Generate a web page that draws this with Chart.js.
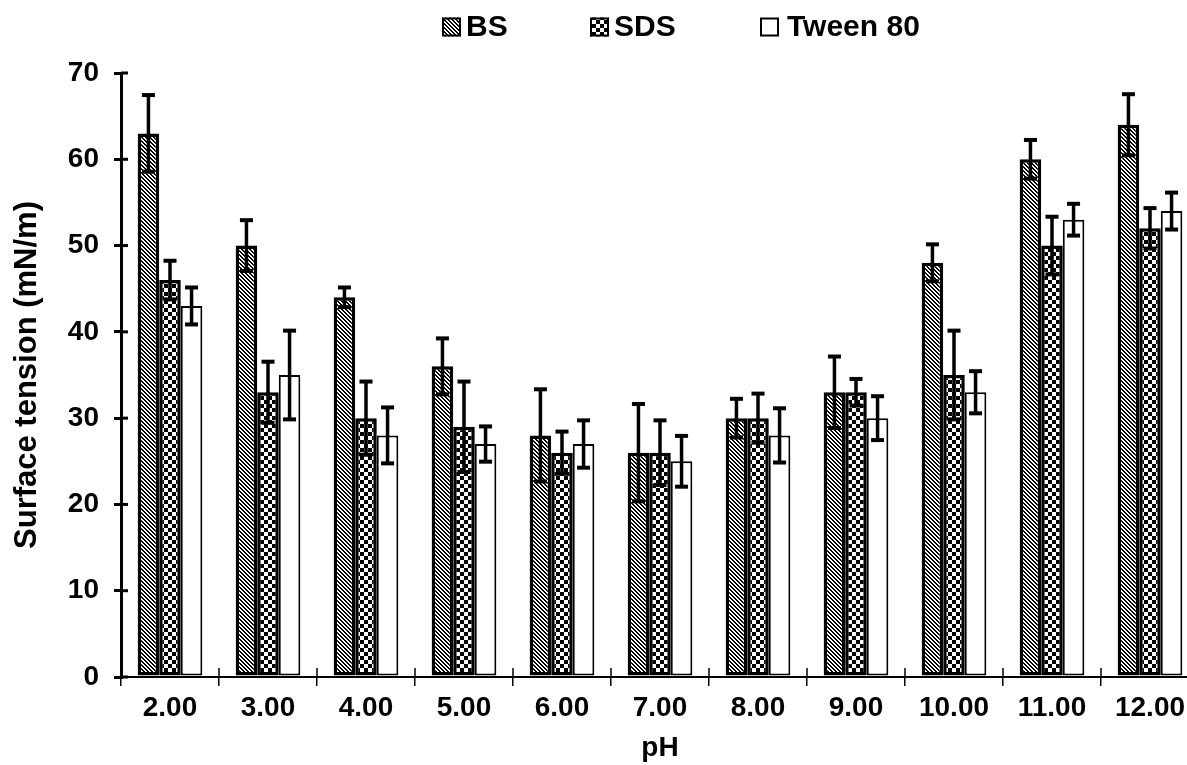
<!DOCTYPE html>
<html>
<head>
<meta charset="utf-8">
<script src="https://cdn.jsdelivr.net/npm/chart.js@4.4.1/dist/chart.umd.min.js"></script>
<style>
  html, body { margin: 0; padding: 0; background: #fff; overflow: hidden; }
  #wrap { width: 1200px; height: 765px; }
</style>
</head>
<body>
<div id="wrap"><canvas id="chart"></canvas></div>
<script>
// pH values on the category axis
const phLabels = ['2.00', '3.00', '4.00', '5.00', '6.00', '7.00', '8.00', '9.00', '10.00', '11.00', '12.00'];

// surface tension means (mN/m) and their standard deviations
const bsValues    = [63, 50, 44, 36, 28, 26, 30, 33, 48, 60, 64];
const bsErrors    = [4.5, 3.0, 1.2, 3.3, 5.4, 5.7, 2.3, 4.2, 2.2, 2.3, 3.6];
const sdsValues   = [46, 33, 30, 29, 26, 26, 30, 33, 35, 50, 52];
const sdsErrors   = [2.3, 3.6, 4.3, 5.3, 2.5, 3.8, 2.9, 1.6, 5.2, 3.4, 2.4];
const tweenValues = [43, 35, 28, 27, 27, 25, 28, 30, 33, 53, 54];
const tweenErrors = [2.2, 5.2, 3.3, 2.1, 2.8, 3.0, 3.2, 2.6, 2.5, 1.9, 2.2];

// y axis range and tick step
const yMin = 0, yMax = 70, yStep = 10;

const FONT = 'Arial, "Liberation Sans", Helvetica, sans-serif';
const canvas = document.getElementById('chart');
const ctx = canvas.getContext('2d');

// pixel-exact fill patterns
function makePattern(size, isBlack) {
  const c = document.createElement('canvas');
  c.width = c.height = size;
  const g = c.getContext('2d');
  const img = g.createImageData(size, size);
  for (let y = 0; y < size; y++) {
    for (let x = 0; x < size; x++) {
      const v = isBlack(x, y) ? 0 : 255;
      const k = (y * size + x) * 4;
      img.data[k] = img.data[k + 1] = img.data[k + 2] = v;
      img.data[k + 3] = 255;
    }
  }
  g.putImageData(img, 0, 0);
  return ctx.createPattern(c, 'repeat');
}
const hatchFill = makePattern(4, (x, y) => (((x - y) % 4) + 4) % 4 < 2);
const checkFill = makePattern(8, (x, y) => (Math.floor(x / 4) + Math.floor(y / 4)) % 2 === 0);

// symmetric error bars with caps
const errorBars = {
  id: 'errorBars',
  afterDatasetsDraw(chart) {
    const c = chart.ctx, ys = chart.scales.y;
    c.save();
    c.strokeStyle = '#000';
    c.fillStyle = '#000';
    chart.data.datasets.forEach((ds, d) => {
      const meta = chart.getDatasetMeta(d);
      meta.data.forEach((bar, i) => {
        const v = ds.data[i], e = ds.errors[i];
        const yT = ys.getPixelForValue(v + e);
        const yB = ys.getPixelForValue(v - e);
        c.lineWidth = 3.5;
        c.beginPath();
        c.moveTo(bar.x, yT);
        c.lineTo(bar.x, yB);
        c.stroke();
        c.fillRect(bar.x - 6.5, yT - 1.5, 13, 4);
        c.fillRect(bar.x - 6.5, yB - 2.5, 13, 4);
      });
    });
    c.restore();
  }
};

// tick marks that cross into the plot area
const innerTicks = {
  id: 'innerTicks',
  afterDraw(chart) {
    const c = chart.ctx, a = chart.chartArea;
    const ys = chart.scales.y;
    c.save();
    c.strokeStyle = '#000';
    c.lineWidth = 3;
    ys.ticks.forEach(t => {
      const y = ys.getPixelForValue(t.value);
      c.beginPath();
      c.moveTo(a.left, y);
      c.lineTo(a.left + 7, y);
      c.stroke();
    });
    c.lineWidth = 1.5;
    const n = phLabels.length;
    for (let i = 0; i <= n; i++) {
      const x = a.left + i * (a.right - a.left) / n;
      c.beginPath();
      c.moveTo(x, a.bottom);
      c.lineTo(x, a.bottom - 9);
      c.stroke();
    }
    c.restore();
  }
};

// legend row above the plot
const topLegend = {
  id: 'topLegend',
  afterDraw(chart) {
    const c = chart.ctx;
    const items = chart.data.datasets;
    const starts = [442, 590, 760];
    const box = 19, cy = 27;
    c.save();
    c.font = 'bold 30px ' + FONT;
    c.textBaseline = 'middle';
    c.textAlign = 'left';
    items.forEach((ds, i) => {
      const x = starts[i];
      c.fillStyle = ds.backgroundColor;
      c.fillRect(x, cy - box / 2, box, box);
      c.lineWidth = 2;
      c.strokeStyle = '#000';
      c.strokeRect(x + 1, cy - box / 2 + 1, box - 2, box - 2);
      c.fillStyle = '#000';
      c.fillText(ds.label, x + box + (i === 2 ? 8 : 5), cy + 1);
    });
    c.restore();
  }
};

new Chart(ctx, {
  type: 'bar',
  data: {
    labels: phLabels,
    datasets: [
      { label: 'BS', data: bsValues, errors: bsErrors, backgroundColor: hatchFill, borderColor: '#000', borderWidth: 3.5 },
      { label: 'SDS', data: sdsValues, errors: sdsErrors, backgroundColor: checkFill, borderColor: '#000', borderWidth: 3.5 },
      { label: 'Tween 80', data: tweenValues, errors: tweenErrors, backgroundColor: '#ffffff', borderColor: '#000', borderWidth: 2 }
    ]
  },
  options: {
    responsive: true,
    maintainAspectRatio: false,
    animation: false,
    devicePixelRatio: 1,
    layout: { padding: { top: 73, right: 1, left: 0, bottom: 0 } },
    datasets: {
      bar: { categoryPercentage: 0.66, barPercentage: 1.0, borderSkipped: false }
    },
    plugins: {
      legend: { display: false },
      tooltip: { enabled: false }
    },
    scales: {
      x: {
        afterFit(scale) { scale.height = 88; },
        grid: { display: true, drawOnChartArea: false, drawTicks: true, tickLength: 9, lineWidth: 1.5, color: '#000', offset: true },
        border: { display: true, color: '#000', width: 2 },
        ticks: { color: '#000', font: { family: FONT, size: 28, weight: 'bold' }, padding: 5, maxRotation: 0, autoSkip: false },
        title: { display: true, text: 'pH', color: '#000', font: { family: FONT, size: 28, weight: 'bold' }, padding: { top: 0, bottom: 0 } }
      },
      y: {
        min: yMin,
        max: yMax,
        afterFit(scale) { scale.width = 121; },
        grid: { display: true, drawOnChartArea: false, drawTicks: true, tickLength: 7, lineWidth: 3, color: '#000' },
        border: { display: true, color: '#000', width: 3 },
        ticks: { stepSize: yStep, color: '#000', font: { family: FONT, size: 28, weight: 'bold' }, padding: 15 },
        title: { display: true, text: 'Surface tension (mN/m)', color: '#000', font: { family: FONT, size: 31, weight: 'bold' }, padding: { top: 9, bottom: 10 } }
      }
    }
  },
  plugins: [errorBars, innerTicks, topLegend]
});
</script>
</body>
</html>
